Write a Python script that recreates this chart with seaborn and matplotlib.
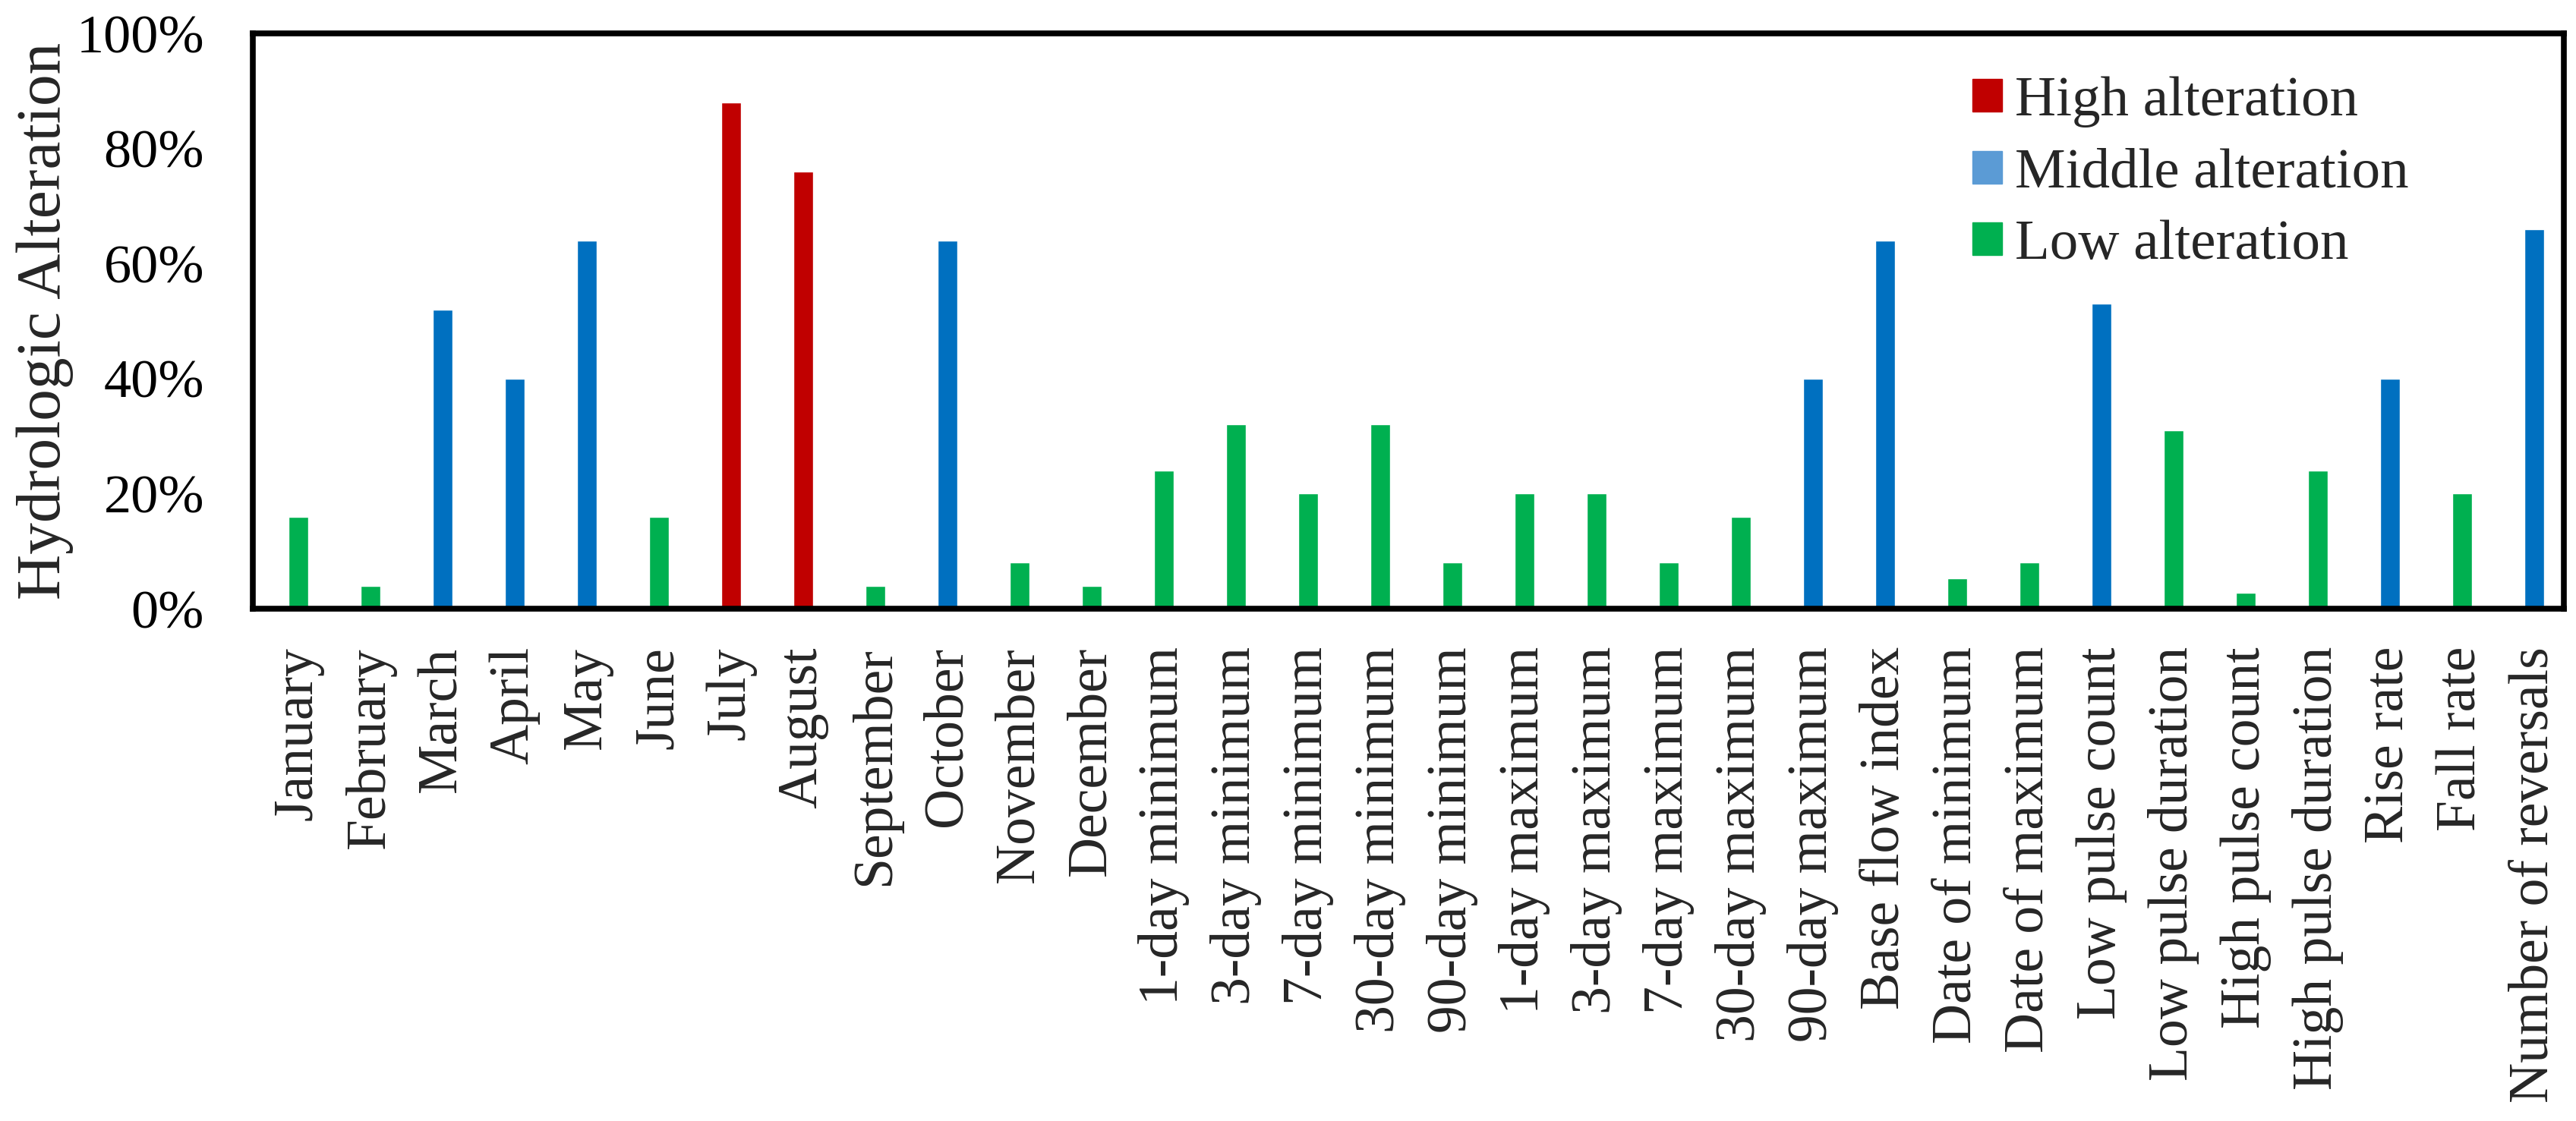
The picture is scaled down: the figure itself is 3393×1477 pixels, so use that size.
import pandas as pd
import matplotlib.pyplot as plt
import matplotlib.patches as mpatches
from matplotlib.ticker import PercentFormatter
import seaborn as sns

# IHA parameters and their degree of hydrologic alteration (%)
parameters = [
    'January', 'February', 'March', 'April', 'May', 'June', 'July', 'August',
    'September', 'October', 'November', 'December',
    '1-day minimum', '3-day minimum', '7-day minimum', '30-day minimum', '90-day minimum',
    '1-day maximum', '3-day maximum', '7-day maximum', '30-day maximum', '90-day maximum',
    'Base flow index', 'Date of minimum', 'Date of maximum',
    'Low pulse count', 'Low pulse duration', 'High pulse count', 'High pulse duration',
    'Rise rate', 'Fall rate', 'Number of reversals',
]
alteration = [
    16, 4, 52, 40, 64, 16, 88, 76, 4, 64, 8, 4,
    24, 32, 20, 32, 8,
    20, 20, 8, 16, 40,
    64, 5.3, 8,
    53, 31, 2.8, 24,
    40, 20, 66,
]
level = [
    'Low', 'Low', 'Middle', 'Middle', 'Middle', 'Low', 'High', 'High', 'Low', 'Middle', 'Low', 'Low',
    'Low', 'Low', 'Low', 'Low', 'Low',
    'Low', 'Low', 'Low', 'Low', 'Middle',
    'Middle', 'Low', 'Low',
    'Middle', 'Low', 'Low', 'Low',
    'Middle', 'Low', 'Middle',
]

bar_colors = {'High': '#C00000', 'Middle': '#0070C0', 'Low': '#00B050'}
legend_colors = {'High': '#C00000', 'Middle': '#5B9BD5', 'Low': '#00B050'}
legend_labels = {'High': 'High alteration', 'Middle': 'Middle alteration', 'Low': 'Low alteration'}

df = pd.DataFrame({'Parameter': parameters, 'Alteration': alteration, 'Level': level})

sns.set_style('white')
plt.rcParams['font.family'] = ['Liberation Serif', 'DejaVu Serif']

fig = plt.figure(figsize=(33.93, 14.77), dpi=100)
ax = fig.add_axes([0.0981, 0.457, 0.8972, 0.5132])

sns.barplot(data=df, x='Parameter', y='Alteration', hue='Level', order=parameters,
            palette=bar_colors, saturation=1, dodge=False, width=0.27, legend=False, ax=ax)

ax.set_xlim(-0.632, 31.41)
ax.set_ylim(0, 100)
ax.set_yticks(range(0, 101, 20))
ax.yaxis.set_major_formatter(PercentFormatter(decimals=0))

for side in ['left', 'right', 'top', 'bottom']:
    ax.spines[side].set_visible(True)
    ax.spines[side].set_color('black')
    ax.spines[side].set_linewidth(5.5)

ax.tick_params(axis='y', direction='in', length=16, width=4.5, pad=46, labelsize=52, colors='black')
ax.tick_params(axis='x', length=0, pad=36, labelsize=53, labelrotation=90)

ax.set_xlabel('')
ax.set_ylabel('Hydrologic Alteration', fontsize=60)
ax.yaxis.set_label_coords(-0.0775, 0.5)

handles = [mpatches.Patch(color=legend_colors[k], label=legend_labels[k]) for k in ['High', 'Middle', 'Low']]
ax.legend(handles=handles, loc='upper left', bbox_to_anchor=(0.744, 0.925), frameon=False,
          fontsize=54, handlelength=0.53, handleheight=0.5, handletextpad=0.22,
          labelspacing=0.36, borderpad=0, borderaxespad=0)

fig.savefig('out.png', dpi=100)
